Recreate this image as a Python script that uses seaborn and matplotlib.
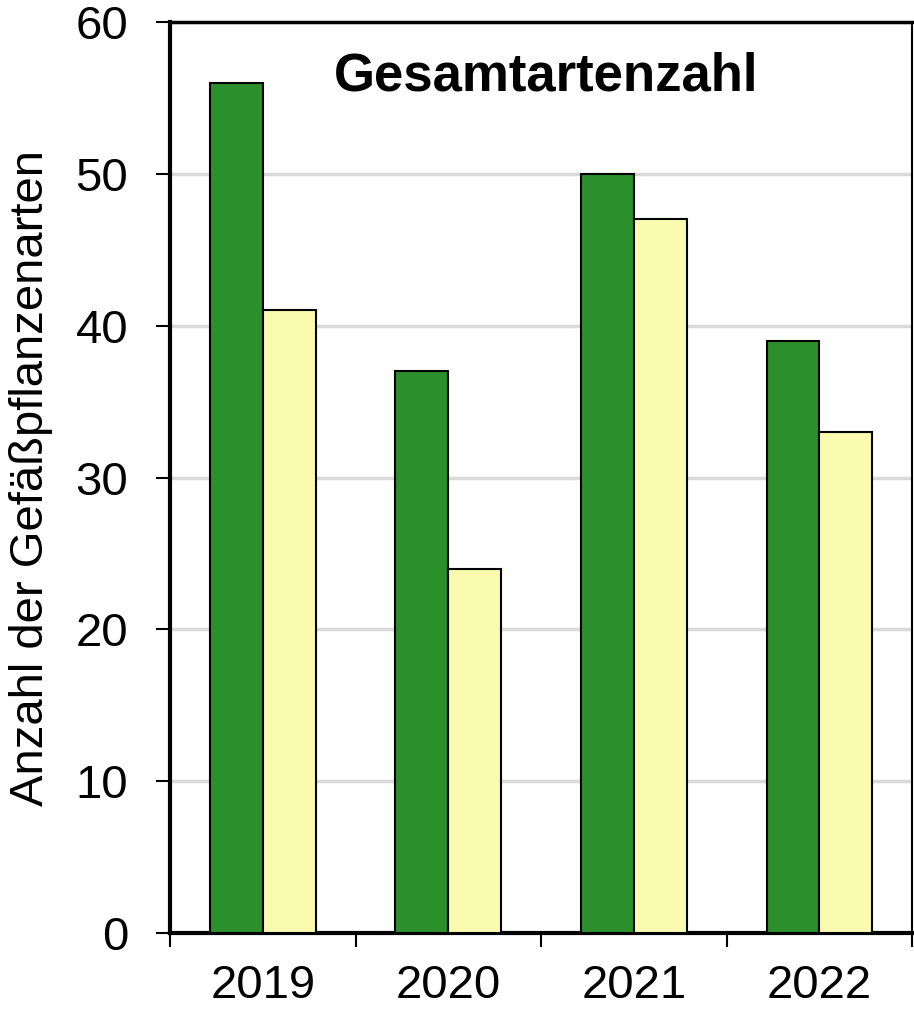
import numpy as np
import pandas as pd
import matplotlib
matplotlib.use("Agg")
import matplotlib.pyplot as plt
import seaborn as sns

# Werte
jahre = ["2019", "2020", "2021", "2022"]
serie_a = [56, 37, 50, 39]
serie_b = [41, 24, 47, 33]
serien = ["Serie A", "Serie B"]
farben = ["#2b8f2b", "#fbfbb0"]
y_ticks = [0, 10, 20, 30, 40, 50, 60]

df = pd.DataFrame({
    "Jahr": jahre * 2,
    "Anzahl": serie_a + serie_b,
    "Serie": [serien[0]] * len(jahre) + [serien[1]] * len(jahre),
})

sns.set_theme(style="white")
plt.rcParams["font.family"] = ["Liberation Sans", "DejaVu Sans"]
plt.rcParams["text.color"] = "black"
plt.rcParams["axes.labelcolor"] = "black"
plt.rcParams["xtick.color"] = "black"
plt.rcParams["ytick.color"] = "black"

fig = plt.figure(figsize=(9.14, 10.09), dpi=100)
ax = fig.add_axes([0.186, 0.0753, 0.812, 0.9029])

sns.barplot(data=df, x="Jahr", y="Anzahl", hue="Serie", palette=farben,
            width=0.57, gap=0, saturation=1, edgecolor="black", linewidth=1.5,
            legend=False, ax=ax, zorder=3)

ax.set_ylim(0, 60)
ax.set_xlim(-0.5, len(jahre) - 0.5)
ax.set_yticks(y_ticks)
ax.yaxis.grid(True, color="#d9d9d9", linewidth=2.5, zorder=0)
ax.set_axisbelow(True)

# Striche zwischen den Kategorien
ax.set_xticks(np.arange(-0.5, len(jahre)), minor=True)
ax.tick_params(axis="x", which="major", length=0, labelsize=34, pad=22)
ax.tick_params(axis="x", which="minor", length=10, width=1.5, direction="out",
               bottom=True)
ax.tick_params(axis="y", length=10, width=1.5, direction="out",
               labelsize=34, left=True, pad=20)

for name, sp in ax.spines.items():
    sp.set_visible(True)
    sp.set_color("black")
    sp.set_linewidth(1.5)
ax.spines["left"].set_linewidth(3)
ax.spines["bottom"].set_linewidth(3)
ax.spines["top"].set_linewidth(2.5)

ax.set_xlabel("")
ax.set_ylabel("Anzahl der Gefäßpflanzenarten", fontsize=34, labelpad=16)
ax.text(0.507, 0.925, "Gesamtartenzahl", transform=ax.transAxes, ha="center",
        va="baseline", fontsize=38, fontweight="bold")

plt.savefig("out.png", dpi=100)
plt.close()
